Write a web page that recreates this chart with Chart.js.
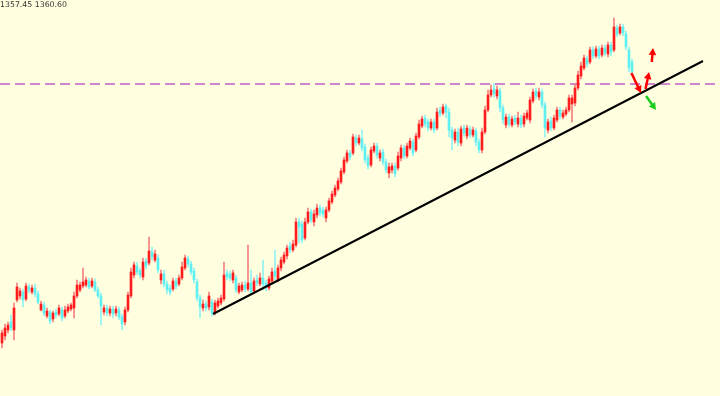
<!DOCTYPE html>
<html>
<head>
<meta charset="utf-8">
<script src="https://cdn.jsdelivr.net/npm/chart.js@4/dist/chart.umd.min.js"></script>
<style>
    html, body { margin: 0; padding: 0; background: #ffffe0; }
    #wrap { position: relative; width: 720px; height: 396px; }
    #quote { position: absolute; left: 0px; top: 0px; font: 7.8px "DejaVu Sans", sans-serif; color: #333; }
</style>
</head>
<body>
<div id="wrap">
    <canvas id="chart" width="720" height="396"></canvas>
    <div id="quote">1357.45 1360.60</div>
</div>
<script>
// candles, oldest first
const opens = [57,64,70,78,70,100,104,108,101,113,108,112,106,90,95,84,88,81,88,86,90,84,89,91,92,104,110,114,115,119,
    114,118,110,104,88,92,87,91,87,90,83,78,90,104,125,134,129,123,139,137,148,140,142,120,126,116,112,111,119,116,
    122,132,141,136,129,118,102,92,96,93,98,87,94,97,101,127,126,120,122,108,110,115,111,117,109,120,116,122,117,112,
    119,129,120,132,138,144,154,150,155,178,176,162,178,188,178,185,192,190,182,190,198,205,211,218,228,239,247,247,262,257,
    261,253,242,235,249,254,242,248,238,227,230,234,232,242,252,244,252,258,250,263,274,282,278,272,278,272,290,287,294,288,
    270,260,268,257,272,264,271,265,269,258,250,268,290,305,311,304,309,292,275,283,275,282,276,282,276,282,280,299,309,303,
    308,295,270,279,272,280,290,283,286,290,296,297,312,324,332,341,338,350,344,351,345,352,346,355,350,372,367,373,366,350,
    338]
const highs = [70,76,78,85,97,117,112,111,117,116,115,116,109,99,98,92,90,89,91,95,93,94,96,97,108,120,118,132,123,122,
    122,121,113,107,95,95,94,94,94,93,86,93,108,132,138,138,132,142,142,163,153,150,145,130,130,119,115,122,122,125,
    138,145,144,139,132,121,105,100,99,108,101,100,102,105,138,130,129,130,125,117,118,119,155,130,122,125,127,140,120,124,
    132,150,135,143,148,155,158,160,182,182,179,182,192,191,190,196,195,193,193,202,209,215,222,232,243,250,250,266,265,265,
    270,256,245,253,257,257,250,251,241,237,237,237,248,255,255,257,262,261,267,280,284,285,281,281,281,292,293,296,296,292,
    273,271,272,274,275,275,274,273,272,261,272,294,310,315,317,314,312,295,286,286,284,285,288,285,287,290,303,311,312,312,
    311,298,281,283,285,293,293,290,293,305,305,316,329,338,345,344,353,353,354,354,355,355,358,358,382,375,376,376,369,353,
    341]
const lows = [52,60,67,69,60,98,101,93,99,107,106,103,96,89,84,82,76,78,82,84,79,82,87,89,82,102,108,112,113,111,
    112,108,102,75,85,84,84,82,84,80,70,75,88,102,122,125,122,120,131,135,140,138,127,116,113,106,105,109,111,114,
    120,130,133,125,117,99,82,89,89,90,84,85,92,95,99,120,119,117,107,106,108,108,109,106,107,114,114,110,109,110,
    117,120,118,129,136,141,147,148,153,157,157,160,176,177,174,182,184,183,178,188,196,203,209,216,226,237,240,245,254,255,
    249,237,231,233,247,242,239,235,227,222,227,223,230,239,241,242,250,244,248,261,272,273,269,270,267,270,283,285,282,263,
    250,257,254,254,264,261,262,263,254,247,247,266,288,303,303,301,288,276,272,273,273,275,273,272,273,280,277,297,301,300,
    292,263,267,269,270,278,281,281,284,288,278,294,310,321,330,333,336,341,342,341,343,344,343,344,348,363,365,364,350,328,
    325]
const closes = [67,72,75,72,92,113,109,100,114,110,112,106,98,96,87,89,79,87,85,92,82,90,93,95,104,115,115,118,120,113,
    119,110,104,94,92,87,91,86,91,83,76,90,105,128,135,128,125,138,134,149,143,146,130,126,116,110,108,119,114,122,
    133,142,136,128,120,102,93,96,92,104,87,97,99,102,125,123,122,127,110,114,115,111,117,108,119,117,122,116,112,121,
    128,124,132,140,145,152,150,156,178,173,160,178,188,180,186,192,187,186,190,199,206,212,219,229,240,247,243,263,257,262,
    252,240,234,250,254,245,247,238,230,233,234,226,244,252,244,254,259,247,264,276,281,276,272,278,270,288,286,293,288,270,
    262,268,258,271,267,272,265,270,258,250,268,290,305,310,306,310,292,280,283,276,281,278,282,275,284,287,300,308,304,308,
    295,272,278,272,282,290,284,287,290,302,302,312,325,334,342,336,350,344,351,344,352,347,355,348,373,366,373,367,353,332,
    328]

// support line and resistance level, same units as the candles
const trendX = [70.33, 233.67]
const trendY = [86, 339]
const resistance = 316

// arrows drawn at the right end: [x0, y0, x1, y1]
const redArrows = [[209.8, 327, 213, 307], [214.5, 311, 215.7, 328], [216.6, 338, 217, 352]]
const greenArrows = [[214.7, 304, 218, 290]]

const xMin = -0.667
const xMax = 239.333

const up = i => closes[i] >= opens[i]

const arrowPlugin = {
    id: 'arrows',
    afterDatasetsDraw(chart) {
        const ctx = chart.ctx
        const sx = chart.scales.x
        const sy = chart.scales.y
        const draw = (a, color) => {
            const x0 = sx.getPixelForValue(a[0]), y0 = sy.getPixelForValue(a[1])
            const x1 = sx.getPixelForValue(a[2]), y1 = sy.getPixelForValue(a[3])
            const ang = Math.atan2(y1 - y0, x1 - x0)
            ctx.save()
            ctx.strokeStyle = color
            ctx.fillStyle = color
            ctx.lineWidth = 2.5
            ctx.beginPath()
            ctx.moveTo(x0, y0)
            ctx.lineTo(x1 - 5 * Math.cos(ang), y1 - 5 * Math.sin(ang))
            ctx.stroke()
            ctx.beginPath()
            ctx.moveTo(x1, y1)
            ctx.lineTo(x1 - 8 * Math.cos(ang - 0.5), y1 - 8 * Math.sin(ang - 0.5))
            ctx.lineTo(x1 - 8 * Math.cos(ang + 0.5), y1 - 8 * Math.sin(ang + 0.5))
            ctx.closePath()
            ctx.fill()
            ctx.restore()
        }
        redArrows.forEach(a => draw(a, '#ff0000'))
        greenArrows.forEach(a => draw(a, '#1ecc1e'))
    }
}

const idx = opens.map((v, i) => i)

new Chart(document.getElementById('chart'), {
    type: 'bar',
    data: {
        datasets: [
            {
                // dashed resistance
                type: 'line',
                data: [{x: xMin, y: resistance}, {x: xMax, y: resistance}],
                borderColor: '#bf60c8',
                borderWidth: 1.3,
                borderDash: [10, 5],
                pointRadius: 0,
                order: 3
            },
            {
                // wicks
                data: idx.map(i => ({x: i, y: [lows[i], highs[i]]})),
                backgroundColor: idx.map(i => up(i) ? '#f38080' : '#8ff2f2'),
                barThickness: 1,
                grouped: false,
                order: 2
            },
            {
                // bodies
                data: idx.map(i => ({x: i, y: [opens[i], closes[i]]})),
                backgroundColor: idx.map(i => up(i) ? '#ff1c1c' : '#5cf0f0'),
                barThickness: 2,
                minBarLength: 1,
                grouped: false,
                order: 1
            },
            {
                type: 'line',
                data: [{x: trendX[0], y: trendY[0]}, {x: trendX[1], y: trendY[1]}],
                borderColor: '#000000',
                borderWidth: 2,
                pointRadius: 0,
                order: 0
            }
        ]
    },
    options: {
        responsive: false,
        animation: false,
        layout: {padding: 0},
        plugins: {legend: {display: false}, tooltip: {enabled: false}},
        scales: {
            x: {type: 'linear', min: xMin, max: xMax, offset: false, display: false},
            y: {min: 4, max: 400, display: false}
        }
    },
    plugins: [arrowPlugin]
})
</script>
</body>
</html>
